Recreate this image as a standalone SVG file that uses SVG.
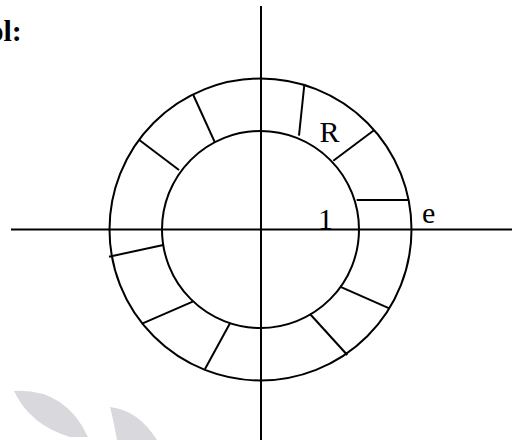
<svg xmlns="http://www.w3.org/2000/svg" width="527" height="440" viewBox="0 0 527 440">
<style>
.ln{stroke:#000;stroke-width:2;fill:none}
.t{font-family:"Liberation Serif","Times New Roman",serif;font-size:30px;fill:#000}
.wm{fill:#d9d9dd;stroke:none}
</style>
<rect width="527" height="440" fill="#fff"/>
<g id="watermark">
<path class="wm" d="M14,391 Q65,388 88,437 L70,437 Q30,425 14,391 Z"/>
<path class="wm" d="M110,407 Q138,410 157,440 L117,440 Q114,422 110,407 Z"/>
</g>
<g id="axes">
<line class="ln" x1="11" y1="229.5" x2="512" y2="229.5"/>
<line class="ln" x1="261" y1="6" x2="261" y2="440"/>
</g>
<g id="outer-circle"><circle class="ln" cx="260.5" cy="229.5" r="151"/></g>
<g id="inner-circle"><circle class="ln" cx="260.5" cy="229.5" r="98.5"/></g>
<g id="connectors">
<line class="ln" x1="304.3" y1="85" x2="299" y2="135.7"/>
<line class="ln" x1="374.3" y1="130" x2="333.3" y2="160.7"/>
<line class="ln" x1="356.7" y1="200" x2="409" y2="200"/>
<line class="ln" x1="193.3" y1="95" x2="215" y2="142.7"/>
<line class="ln" x1="139.3" y1="140" x2="179" y2="170"/>
<line class="ln" x1="109" y1="256.7" x2="163.3" y2="245"/>
<line class="ln" x1="142.7" y1="323.3" x2="192.7" y2="301.7"/>
<line class="ln" x1="205" y1="369" x2="230" y2="323.3"/>
<line class="ln" x1="340" y1="286.7" x2="389.3" y2="308.3"/>
<line class="ln" x1="310" y1="314" x2="347.3" y2="355"/>
</g>
<g id="labels">
<text class="t" x="-11.5" y="41" font-weight="bold">ol:</text>
<text class="t" x="319.5" y="141.7">R</text>
<text class="t" x="318" y="229">1</text>
<text class="t" x="422" y="223">e</text>
</g>
</svg>
